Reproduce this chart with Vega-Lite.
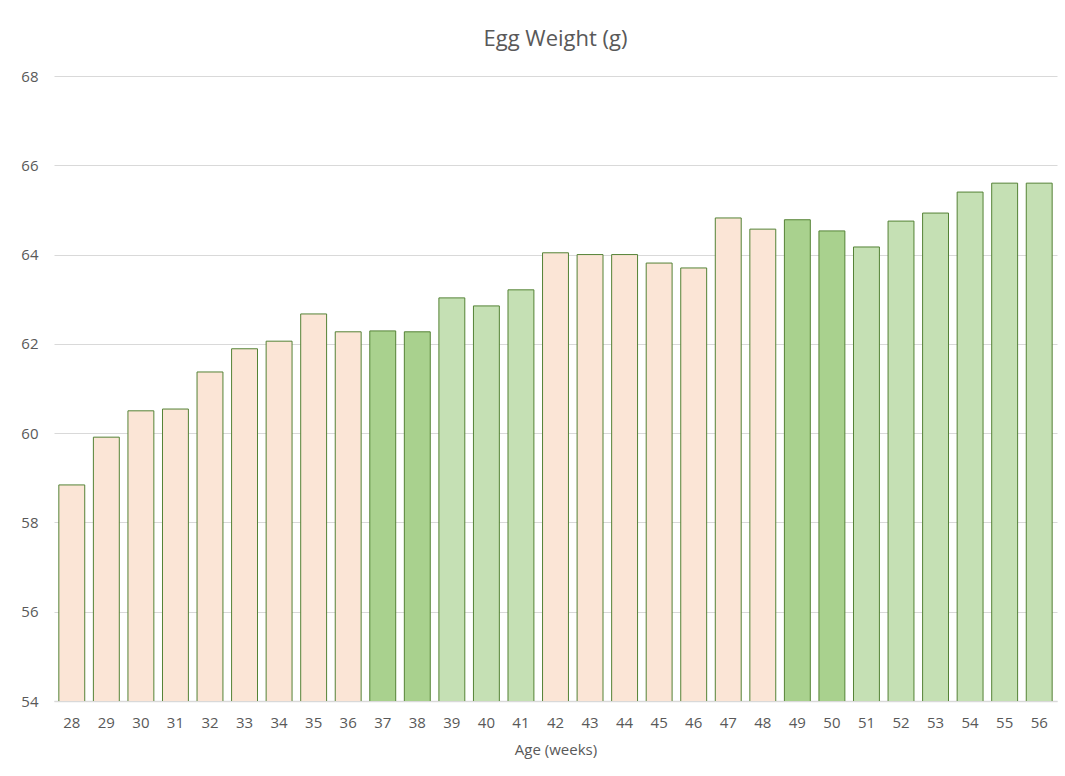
{
  "$schema": "https://vega.github.io/schema/vega-lite/v6.json",
  "width": 1003,
  "height": 625,
  "autosize": "none",
  "padding": {"left": 54, "top": 76, "right": 8, "bottom": 75},
  "background": "white",
  "title": {"text": "Egg Weight (g)", "fontSize": 22, "font": "Open Sans", "fontWeight": "normal", "color": "#595959", "offset": 18, "anchor": "middle"},
  "config": {"view": {"stroke": null}, "font": "Open Sans"},
  "data": {"values": [
    {"age": 28, "weight": 58.84, "group": "a"},
    {"age": 29, "weight": 59.91, "group": "a"},
    {"age": 30, "weight": 60.50, "group": "a"},
    {"age": 31, "weight": 60.54, "group": "a"},
    {"age": 32, "weight": 61.37, "group": "a"},
    {"age": 33, "weight": 61.89, "group": "a"},
    {"age": 34, "weight": 62.06, "group": "a"},
    {"age": 35, "weight": 62.67, "group": "a"},
    {"age": 36, "weight": 62.27, "group": "a"},
    {"age": 37, "weight": 62.29, "group": "c"},
    {"age": 38, "weight": 62.27, "group": "c"},
    {"age": 39, "weight": 63.03, "group": "b"},
    {"age": 40, "weight": 62.85, "group": "b"},
    {"age": 41, "weight": 63.21, "group": "b"},
    {"age": 42, "weight": 64.04, "group": "a"},
    {"age": 43, "weight": 64.00, "group": "a"},
    {"age": 44, "weight": 64.00, "group": "a"},
    {"age": 45, "weight": 63.81, "group": "a"},
    {"age": 46, "weight": 63.70, "group": "a"},
    {"age": 47, "weight": 64.82, "group": "a"},
    {"age": 48, "weight": 64.57, "group": "a"},
    {"age": 49, "weight": 64.78, "group": "c"},
    {"age": 50, "weight": 64.53, "group": "c"},
    {"age": 51, "weight": 64.17, "group": "b"},
    {"age": 52, "weight": 64.75, "group": "b"},
    {"age": 53, "weight": 64.93, "group": "b"},
    {"age": 54, "weight": 65.40, "group": "b"},
    {"age": 55, "weight": 65.60, "group": "b"},
    {"age": 56, "weight": 65.60, "group": "b"}
  ]},
  "mark": {"type": "bar", "stroke": "#548235", "strokeWidth": 1, "clip": true},
  "encoding": {
    "x": {
      "field": "age", "type": "ordinal",
      "scale": {"paddingInner": 0.25, "paddingOuter": 0.14},
      "axis": {
        "title": "Age (weeks)", "titleFont": "Open Sans", "titleFontSize": 15, "titleFontWeight": "normal", "titleColor": "#595959", "titlePadding": 12,
        "labelAngle": 0, "labelFontSize": 15, "labelColor": "#595959", "labelPadding": 14,
        "ticks": false, "domainColor": "#d9d9d9", "domainWidth": 1.5
      }
    },
    "y": {
      "field": "weight", "type": "quantitative",
      "scale": {"domain": [54, 68], "nice": false, "zero": false},
      "axis": {
        "title": null, "values": [54, 56, 58, 60, 62, 64, 66, 68],
        "labelFontSize": 15, "labelColor": "#595959", "labelPadding": 16,
        "ticks": false, "domain": false, "gridColor": "#d9d9d9", "gridWidth": 1
      }
    },
    "fill": {
      "field": "group", "type": "nominal",
      "scale": {"domain": ["a", "b", "c"], "range": ["#FBE5D6", "#C5E0B4", "#A9D18E"]},
      "legend": null
    }
  }
}
